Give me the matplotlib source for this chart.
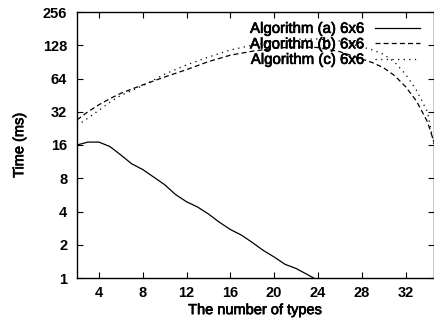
import numpy as np
import matplotlib.pyplot as plt
import matplotlib.patheffects as pe
from matplotlib.ticker import FixedLocator, FixedFormatter

# number of types (x) and time in ms (y)
x_a = [2, 3, 4, 5, 6, 7, 8, 9, 10, 11, 12, 13, 14, 15, 16, 17, 18, 19, 20, 21, 22, 23, 24]
time_a = [16, 17, 17, 15.5, 13, 10.8, 9.6, 8.2, 7.0, 5.7, 4.9, 4.4, 3.8, 3.2, 2.75, 2.45,
          2.1, 1.78, 1.55, 1.33, 1.22, 1.08, 0.95]

x_bc = [2, 3, 4, 5, 6, 8, 10, 12, 14, 16, 18, 20, 22, 24, 26, 28, 29, 30, 31, 32, 33, 34, 34.6]
time_b = [27, 32, 37, 42, 47, 56, 66, 77, 91, 104, 113, 120, 124, 122, 112, 96, 89, 80, 68,
          54, 40, 26, 17]
time_c = [24, 28, 33, 39, 45, 55, 70, 85, 100, 116, 128, 138, 145, 146, 140, 124, 116, 106,
          90, 70, 50, 32, 16]

labels = ['Algorithm (a) 6x6', 'Algorithm (b) 6x6', 'Algorithm (c) 6x6']
x_ticks = [4, 8, 12, 16, 20, 24, 28, 32]
y_ticks = [1, 2, 4, 8, 16, 32, 64, 128, 256]

plt.rcParams['font.family'] = ['Liberation Sans', 'DejaVu Sans']
plt.rcParams['font.size'] = 10.5

# slightly heavier strokes, like the scanned original
thick = [pe.withStroke(linewidth=0.5, foreground='black')]

fig = plt.figure(figsize=(4.35, 3.24), dpi=100)
ax = fig.add_axes([77 / 435, 46 / 324, 357 / 435, 266 / 324])

ax.plot(x_a, time_a, color='black', lw=0.9, label=labels[0])
ax.plot(x_bc, time_b, color='black', lw=0.9, dashes=(4, 2.5), label=labels[1])
ax.plot(x_bc, time_c, color='black', lw=0.9, dashes=(1, 3.5), label=labels[2])

ax.set_yscale('log', base=2)
ax.set_xlim(2, 34.6)
ax.set_ylim(1, 256)
ax.yaxis.set_major_locator(FixedLocator(y_ticks))
ax.yaxis.set_major_formatter(FixedFormatter([str(v) for v in y_ticks]))
ax.yaxis.set_minor_locator(FixedLocator([]))
ax.set_xticks(x_ticks)

ax.tick_params(direction='in', top=True, right=True, length=4, width=0.8)
ax.tick_params(axis='y', pad=7)
ax.tick_params(axis='x', pad=6)
for lab in ax.get_xticklabels() + ax.get_yticklabels():
    lab.set_fontweight('bold')
for s in ax.spines.values():
    s.set_linewidth(1.0)

ax.set_xlabel('The number of types', labelpad=2, path_effects=thick)
ax.set_ylabel('Time (ms)', labelpad=12, path_effects=thick)

leg = ax.legend(loc='upper right', bbox_to_anchor=(0.961, 0.963), frameon=False,
                markerfirst=False, handlelength=3.0, handletextpad=0.7,
                labelspacing=0.1, borderpad=0, borderaxespad=0, fontsize=10.8)
for t in leg.get_texts():
    t.set_path_effects(thick)

fig.savefig('out.png', dpi=100)
